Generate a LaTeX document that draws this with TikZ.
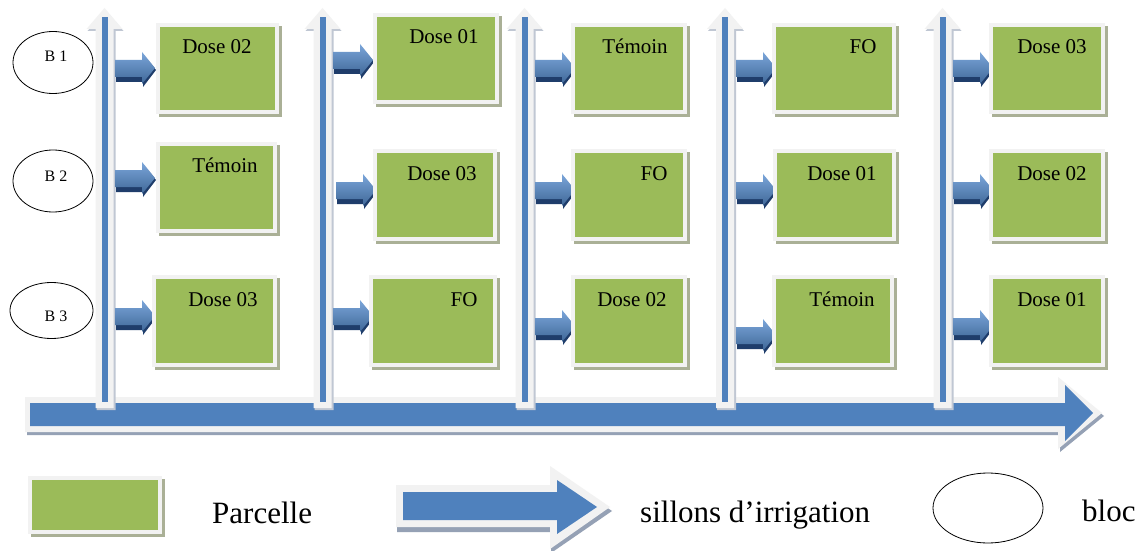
\documentclass[tikz,border=0pt]{standalone}
\usepackage{fontspec}
\setmainfont{Liberation Serif}
\definecolor{parcgreen}{HTML}{9BBB59}
\definecolor{irrblue}{HTML}{4F81BD}
\definecolor{bordc}{HTML}{F2F2F2}
\definecolor{boxshadow}{HTML}{AAB096}
\definecolor{arrshadow}{HTML}{95A1B5}
\definecolor{darkblue}{HTML}{1F3D6B}
\definecolor{lightblue}{HTML}{7BA6DA}
\tikzset{
  parc/.style={fill=parcgreen, draw=none, inner sep=0pt},
  lab/.style={font=\fontsize{21}{21}\selectfont, anchor=base, inner sep=0pt},
  leglab/.style={font=\fontsize{31}{31}\selectfont, anchor=base west, inner sep=0pt},
  blocl/.style={font=\fontsize{16}{16}\selectfont, anchor=base, inner sep=0pt},
  bloc/.style={draw=black, line width=0.8pt, fill=white, ellipse, inner sep=0pt},
}
% parcel box: name, x1, y1, x2, y2
\newcommand{\parcbox}[5]{%
  \fill[boxshadow] (#2-4+3,#3-4+3) rectangle (#4+4+3,#5+4+3);
  \fill[bordc] (#2-4,#3-4) rectangle (#4+4,#5+4);
  \path (#2,#3) -- (#4,#5) node[midway, parc, minimum width=#4-#2, minimum height=#5-#3] (#1) {};
}
% small arrow: start x, centre y
\newcommand{\smallarr}[2]{%
  \fill[darkblue] (#1+1,#2-6) -- (#1+28,#2-6) -- (#1+28,#2-15) -- (#1+41,#2+1) -- (#1+28,#2+18) -- (#1+28,#2+13) -- (#1+1,#2+13) -- cycle;
  \shade[top color=lightblue, bottom color=irrblue!80!black] (#1,#2-9) -- (#1+27,#2-9) -- (#1+27,#2-17) -- (#1+40,#2-1) -- (#1+27,#2+15) -- (#1+27,#2+8) -- (#1,#2+8) -- cycle;
}
% vertical pipe: centre x
\newcommand{\pipe}[1]{%
  \fill[arrshadow!60] (#1-8,410) -- (#1-8,31) -- (#1-17,31) -- (#1+1,10) -- (#1+19,31) -- (#1+11,31) -- (#1+11,410) -- cycle;
  \fill[bordc] (#1-9,408) -- (#1-9,29) -- (#1-18,29) -- (#1,8) -- (#1+18,29) -- (#1+9,29) -- (#1+9,408) -- cycle;
  \fill[irrblue] (#1-3,17) rectangle (#1+3,402);
}
\usetikzlibrary{shapes.geometric}
\begin{document}
\begin{tikzpicture}[x=1pt,y=-1pt]
\useasboundingbox[fill=white] (0,0) rectangle (1144,551);

% main irrigation channel
\fill[arrshadow] (27,400) -- (1060,400) -- (1060,380) -- (1104,416) -- (1060,452) -- (1060,435) -- (27,435) -- cycle;
\fill[bordc] (25,397) -- (1058,397) -- (1058,377) -- (1102,413) -- (1058,449) -- (1058,432) -- (25,432) -- cycle;
\fill[irrblue] (30,403) -- (1065,403) -- (1065,385) -- (1093,413) -- (1065,441) -- (1065,426) -- (30,426) -- cycle;

% vertical furrows
\pipe{104.5}
\pipe{322.5}
\pipe{524.5}
\pipe{725}
\pipe{942.5}

% blocs
\node[bloc, minimum width=80pt, minimum height=62pt] (b1) at (53,62.5) {};
\node[blocl] (b1t) at (56,62) {B 1};
\node[bloc, minimum width=80pt, minimum height=62pt] (b2) at (53,181) {};
\node[blocl] (b2t) at (56,181) {B 2};
\node[bloc, minimum width=83pt, minimum height=56pt] (b3) at (51.5,310.5) {};
\node[blocl] (b3t) at (56,321) {B 3};

% column 1
\smallarr{115}{69}
\smallarr{115}{179}
\smallarr{115}{317}
\parcbox{p11}{160}{27}{275}{110}
\parcbox{p12}{160}{146}{273}{229}
\parcbox{p13}{156}{279}{273}{363}
\node[lab] (t11) at (217,54) {Dose 02};
\node[lab] (t12) at (225,172) {Témoin};
\node[lab] (t13) at (223,306) {Dose 03};

% column 2
\smallarr{333}{61}
\smallarr{336}{191}
\smallarr{333}{317}
\parcbox{p21}{377}{17}{495}{100}
\parcbox{p22}{377}{153}{493}{237}
\parcbox{p23}{373}{279}{493}{363}
\node[lab] (t21) at (444,44) {Dose 01};
\node[lab] (t22) at (442,180) {Dose 03};
\node[lab] (t23) at (464,306) {FO};

% column 3
\smallarr{535}{69}
\smallarr{535}{191}
\smallarr{535}{327}
\parcbox{p31}{575}{27}{683}{110}
\parcbox{p32}{575}{153}{683}{237}
\parcbox{p33}{575}{279}{683}{363}
\node[lab] (t31) at (635,54) {Témoin};
\node[lab] (t32) at (654,180) {FO};
\node[lab] (t33) at (632,306) {Dose 02};

% column 4
\smallarr{736}{69}
\smallarr{736}{191}
\smallarr{736}{336}
\parcbox{p41}{776}{27}{892}{110}
\parcbox{p42}{777}{153}{892}{237}
\parcbox{p43}{776}{279}{890}{363}
\node[lab] (t41) at (863,54) {FO};
\node[lab] (t42) at (842,180) {Dose 01};
\node[lab] (t43) at (842,306) {Témoin};

% column 5
\smallarr{953}{69}
\smallarr{953}{191}
\smallarr{953}{327}
\parcbox{p51}{993}{27}{1101}{110}
\parcbox{p52}{993}{153}{1101}{237}
\parcbox{p53}{993}{279}{1101}{363}
\node[lab] (t51) at (1052,54) {Dose 03};
\node[lab] (t52) at (1052,180) {Dose 02};
\node[lab] (t53) at (1052,306) {Dose 01};

% legend
\parcbox{lp}{32}{480}{158}{530}
\node[leglab] (lpt) at (212,523) {Parcelle};
\fill[arrshadow] (397,489) -- (551,489) -- (551,470) -- (612,511) -- (551,553) -- (551,532) -- (397,532) -- cycle;
\fill[bordc] (396,485) -- (550,485) -- (550,466) -- (610,507) -- (550,549) -- (550,527) -- (396,527) -- cycle;
\fill[irrblue] (403,492) -- (557,492) -- (557,480) -- (597,507) -- (557,534) -- (557,520) -- (403,520) -- cycle;
\node[leglab] (lat) at (640,522) {sillons d’irrigation};
\node[bloc, minimum width=110pt, minimum height=70pt] (lb) at (988,508) {};
\node[leglab] (lbt) at (1082,521) {bloc};
\end{tikzpicture}
\end{document}
